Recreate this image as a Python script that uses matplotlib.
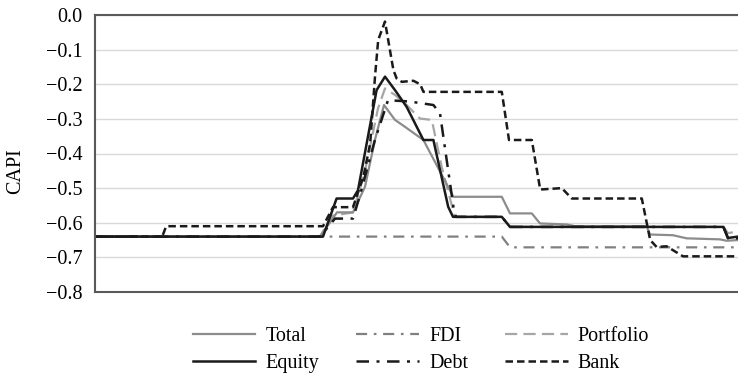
import matplotlib
matplotlib.use("Agg")
import matplotlib.pyplot as plt

plt.rcParams['font.family'] = ['Liberation Serif', 'DejaVu Serif']
plt.rcParams['axes.unicode_minus'] = True

# Capital account pressure index by component (period index along x)
total_x = [0, 56.25, 60.5, 64.5, 67.5, 70, 72.25, 75, 77.5, 82.1, 89.6, 101.7, 103.75,
           109.2, 111.25, 117.9, 120, 137.9, 138.75, 144.5, 147.9, 156.25, 157.9, 160.75]
total_y = [-0.64, -0.64, -0.57, -0.57, -0.496, -0.36, -0.26, -0.303, -0.323, -0.361,
           -0.525, -0.525, -0.573, -0.573, -0.602, -0.605, -0.61, -0.61, -0.634, -0.636,
           -0.645, -0.648, -0.652, -0.65]

fdi_x = [0, 101.7, 103.75, 160.75]
fdi_y = [-0.64, -0.64, -0.671, -0.671]

portfolio_x = [0, 56.25, 59.25, 64.5, 67.5, 70.75, 72.5, 75, 77.9, 81.25, 84.2, 86.7,
               89.2, 90, 101.7, 103.75, 157.1, 158.25, 160.75]
portfolio_y = [-0.64, -0.64, -0.58, -0.57, -0.45, -0.27, -0.212, -0.231, -0.26, -0.299,
               -0.303, -0.44, -0.55, -0.583, -0.583, -0.612, -0.612, -0.63, -0.625]

equity_x = [0, 57, 60.4, 64.5, 65.75, 70.4, 72.5, 75, 77.9, 82.1, 84.6, 88.3, 89.5,
            101.7, 103.75, 157.1, 158.25, 160.75]
equity_y = [-0.64, -0.64, -0.53, -0.53, -0.506, -0.217, -0.178, -0.217, -0.265, -0.361,
            -0.361, -0.554, -0.583, -0.583, -0.612, -0.612, -0.644, -0.64]

debt_x = [0, 56.25, 60, 64.5, 66.25, 70, 73.25, 78.75, 84.6, 86.25, 89.6, 90.25, 101.7,
          103.75, 157.1, 158.25, 160.75]
debt_y = [-0.64, -0.64, -0.588, -0.588, -0.52, -0.36, -0.246, -0.25, -0.26, -0.284,
          -0.554, -0.583, -0.583, -0.612, -0.612, -0.645, -0.645]

bank_x = [0, 16.8, 17.8, 57, 59.5, 64.5, 67.1, 68.8, 70, 70.8, 72.5, 74.6, 75.4, 76.7,
          79.6, 81.3, 82.1, 101.7, 103.5, 109.2, 111.3, 116.7, 119.2, 136.7, 138.8,
          140.4, 142.9, 147, 160.75]
bank_y = [-0.64, -0.64, -0.61, -0.61, -0.555, -0.555, -0.467, -0.371, -0.178, -0.072,
          -0.019, -0.159, -0.183, -0.193, -0.19, -0.20, -0.222, -0.222, -0.361, -0.361,
          -0.504, -0.50, -0.53, -0.53, -0.65, -0.67, -0.668, -0.697, -0.697]

yticks = [0.0, -0.1, -0.2, -0.3, -0.4, -0.5, -0.6, -0.7, -0.8]

W, H = 738, 377
fig = plt.figure(figsize=(W / 100, H / 100), dpi=100)
ax = fig.add_axes([95 / W, (H - 292) / H, 1 - 95 / W, (292 - 15) / H])

lw = 1.6
ax.plot(fdi_x, fdi_y, color='#808080', lw=lw, dashes=(5, 3, 1.2, 3), label='FDI')
ax.plot(portfolio_x, portfolio_y, color='#a6a6a6', lw=lw, dashes=(5.5, 2.8), label='Portfolio')
ax.plot(total_x, total_y, color='#8c8c8c', lw=lw, label='Total')
ax.plot(debt_x, debt_y, color='#1a1a1a', lw=lw + 0.2, dashes=(5, 3, 1.2, 3), label='Debt')
ax.plot(bank_x, bank_y, color='#1a1a1a', lw=lw + 0.2, dashes=(3, 1.6), label='Bank')
ax.plot(equity_x, equity_y, color='#1a1a1a', lw=lw + 0.2, label='Equity')

ax.set_xlim(0, 160.75)
ax.set_ylim(-0.8, 0.0)
ax.set_yticks(yticks)
ax.set_yticklabels([f"{v:.1f}".replace('-', '\u2212') for v in yticks])
ax.set_xticks([])
ax.tick_params(axis='y', length=0, pad=9, labelsize=14.5)
ax.grid(axis='y', color='#d9d9d9', lw=1.0)
ax.set_axisbelow(True)

for side in ('top', 'bottom', 'left'):
    ax.spines[side].set_color('#595959')
    ax.spines[side].set_linewidth(1.5)
ax.spines['right'].set_visible(False)

fig.text(16 / W, 1 - 171 / H, 'CAPI', rotation=90, ha='center', va='center', fontsize=14.5)

handles, labels = ax.get_legend_handles_labels()
order = ['Total', 'Equity', 'FDI', 'Debt', 'Portfolio', 'Bank']
hmap = dict(zip(labels, handles))
fig.legend([hmap[k] for k in order], order, ncol=3, loc='center',
           bbox_to_anchor=(421 / W, 1 - 350 / H), frameon=False, fontsize=14.5,
           handlelength=3.1, handletextpad=0.5, columnspacing=1.85,
           labelspacing=0.35, borderpad=0)

fig.savefig('out.png', dpi=100)
